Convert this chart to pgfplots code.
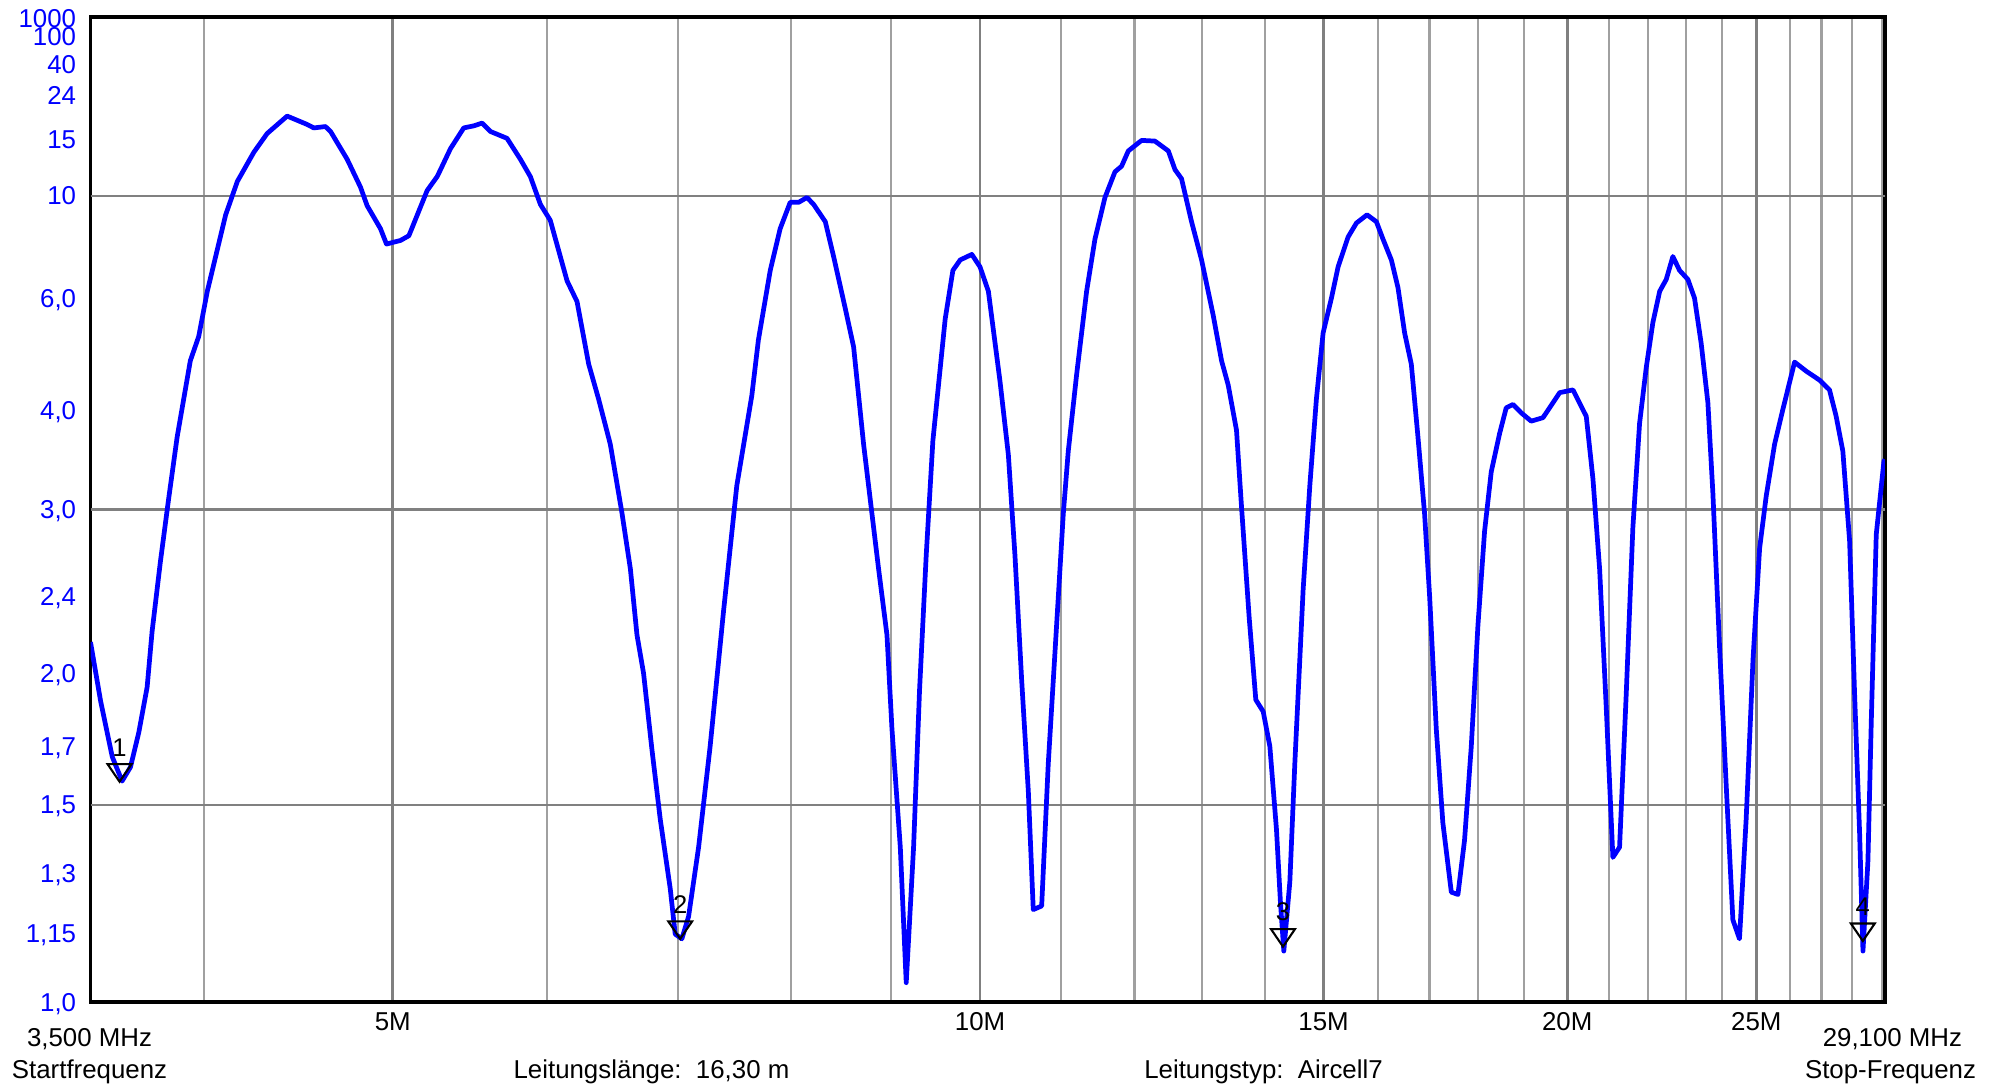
\documentclass[border=0pt]{standalone}
\usepackage{pgfplots}
\pgfplotsset{compat=1.18}
\usepackage{pgfplotstable}
\usepackage{fontspec}
\setmainfont{Liberation Sans}

\definecolor{swrblue}{RGB}{0,0,255}
\definecolor{gridminor}{RGB}{160,160,160}
\definecolor{gridmajor}{RGB}{128,128,128}

% marker: open triangle, apex on the data point
\pgfdeclareplotmark{mkr}{%
  \pgfpathmoveto{\pgfpoint{-4.3pt}{6.3pt}}%
  \pgfpathlineto{\pgfpoint{4.3pt}{6.3pt}}%
  \pgfpathlineto{\pgfpointorigin}%
  \pgfpathclose
  \pgfusepathqstroke}

% frequency in MHz, SWR
\pgfplotstableread{
f swr
3.500 2.151
3.542 1.879
3.591 1.663
3.633 1.578
3.669 1.626
3.705 1.753
3.742 1.939
3.764 2.205
3.801 2.613
3.838 3.081
3.877 3.687
3.938 4.729
3.977 5.165
4.017 6.179
4.105 8.95
4.162 10.97
4.244 13.55
4.311 15.88
4.414 18.84
4.519 17.30
4.555 16.73
4.618 16.95
4.646 16.18
4.738 12.83
4.813 10.57
4.851 9.43
4.928 8.30
4.963 7.67
5.046 7.81
5.096 8.00
5.207 10.34
5.269 11.33
5.290 11.89
5.352 13.93
5.437 16.73
5.502 17.07
5.556 17.54
5.611 16.18
5.722 15.21
5.813 12.83
5.882 11.33
5.952 9.50
6.022 8.68
6.142 6.463
6.215 5.918
6.301 4.672
6.375 4.156
6.464 3.611
6.554 2.967
6.619 2.568
6.671 2.187
6.723 2.001
6.790 1.688
6.857 1.455
6.938 1.260
6.979 1.148
7.034 1.137
7.090 1.190
7.174 1.373
7.273 1.701
7.389 2.317
7.506 3.202
7.640 4.204
7.700 5.099
7.807 6.770
7.900 8.30
7.994 9.62
8.073 9.62
8.153 9.905
8.217 9.50
8.331 8.615
8.413 7.220
8.530 5.752
8.614 4.970
8.716 3.611
8.872 2.568
8.960 2.187
9.013 1.767
9.102 1.373
9.166 1.040
9.246 1.373
9.311 1.924
9.385 2.660
9.459 3.649
9.597 5.519
9.685 6.770
9.769 7.104
9.904 7.292
10.000 6.877
10.099 6.179
10.239 4.402
10.340 3.501
10.421 2.660
10.504 1.970
10.587 1.544
10.649 1.207
10.755 1.216
10.839 1.638
10.925 2.099
11.033 2.967
11.098 3.537
11.208 4.507
11.341 6.179
11.453 7.861
11.589 9.905
11.727 11.71
11.819 12.19
11.913 13.69
12.101 14.94
12.293 14.85
12.489 13.69
12.588 11.89
12.685 11.17
12.836 8.615
12.989 7.104
13.169 5.596
13.299 4.729
13.404 4.350
13.536 3.766
13.616 3.023
13.740 2.279
13.848 1.885
13.969 1.836
14.079 1.701
14.190 1.424
14.257 1.224
14.313 1.109
14.415 1.278
14.500 1.638
14.643 2.438
14.759 3.202
14.875 4.156
14.993 5.233
15.141 6.003
15.260 6.877
15.441 7.945
15.594 8.551
15.791 8.95
15.966 8.615
16.092 7.861
16.251 7.104
16.379 6.273
16.508 5.233
16.639 4.672
16.770 3.687
16.902 2.967
17.002 2.396
17.136 1.767
17.271 1.445
17.442 1.251
17.580 1.245
17.718 1.393
17.859 1.701
18.000 2.241
18.142 2.832
18.285 3.330
18.466 3.727
18.612 4.038
18.759 4.083
18.944 3.975
19.169 3.873
19.436 3.915
19.824 4.242
20.135 4.281
20.454 3.932
20.616 3.264
20.779 2.568
20.943 1.850
21.107 1.344
21.274 1.373
21.442 1.909
21.611 2.859
21.782 3.847
21.954 4.616
22.127 5.445
22.306 6.179
22.478 6.502
22.655 7.220
22.834 6.770
23.060 6.502
23.242 6.003
23.425 5.033
23.610 4.110
23.750 3.140
23.937 2.134
24.126 1.566
24.317 1.182
24.508 1.137
24.702 1.455
24.903 2.066
25.097 2.707
25.294 3.110
25.545 3.611
25.797 4.020
26.155 4.706
26.517 4.560
26.937 4.423
27.256 4.281
27.471 3.932
27.688 3.537
27.911 2.757
28.076 1.909
28.242 1.414
28.354 1.109
28.521 1.334
28.634 1.794
28.803 2.807
29.064 3.432
29.100 3.450
}\swrdata

\begin{document}
\fontsize{9.3}{11}\selectfont
\begin{tikzpicture}
\path[use as bounding box] (-32.58pt,-29.88pt) rectangle (684.9pt,360.72pt);
\begin{semilogxaxis}[
    at={(0,0)}, anchor=south west,
    scale only axis,
    width=646pt, height=354.6pt,
    xmin=3.5, xmax=29.1,
    ymin=1, ymax=10000,
    y coord trafo/.code={\pgfmathparse{(#1-1)/(#1+1)}},
    axis line style={black, line width=1.2pt},
    major tick length=0pt, minor tick length=0pt,
    xtick={5,10,15,20,25},
    xticklabels={5M,10M,15M,20M,25M},
    minor xtick={4,6,7,8,9,11,12,13,14,16,17,18,19,21,22,23,24,26,27,28,29},
    xmajorgrids, xminorgrids,
    major grid style={gridmajor, line width=1.0pt},
    minor grid style={gridminor, line width=0.75pt},
    xticklabel style={anchor=base, inner sep=0pt, yshift=-10.3pt, text=black},
    ytick={1,1.15,1.3,1.5,1.7,2,2.4,3,4,6,10,15,24,40,100,1000},
    yticklabels={{1,0},{1,15},{1,3},{1,5},{1,7},{2,0},{2,4},{3,0},{4,0},{6,0},10,15,24,40,100,1000},
    yticklabel style={anchor=east, inner sep=0pt, text depth=0pt, xshift=-5pt, text=swrblue},
    extra y ticks={1.5,3,10},
    extra y tick labels={},
    extra y tick style={ymajorgrids=true},
]
\addplot[swrblue, line width=1.7pt, line join=round, no markers] table[x=f, y=swr] {\swrdata};

\addplot[only marks, mark=mkr, mark options={black, line width=0.75pt},
    point meta=explicit symbolic, nodes near coords,
    nodes near coords style={black, anchor=south, inner sep=0pt, yshift=8.8pt,
        font=\fontsize{9.2}{11}\selectfont}]
    coordinates {(3.622,1.576)[1] (7.02,1.137)[2] (14.30,1.119)[3] (28.35,1.132)[4]};
\end{semilogxaxis}

\node[anchor=base] at (-0.36pt,-16.1pt) {3,500 MHz};
\node[anchor=base] at (-0.36pt,-27.7pt) {Startfrequenz};
\node[anchor=base] at (201.96pt,-27.7pt) {Leitungslänge:\ \ 16,30 m};
\node[anchor=base] at (422.28pt,-27.7pt) {Leitungstyp:\ \ Aircell7};
\node[anchor=base] at (648.7pt,-16.1pt) {29,100 MHz};
\node[anchor=base] at (648pt,-27.7pt) {Stop-Frequenz};
\end{tikzpicture}
\end{document}
